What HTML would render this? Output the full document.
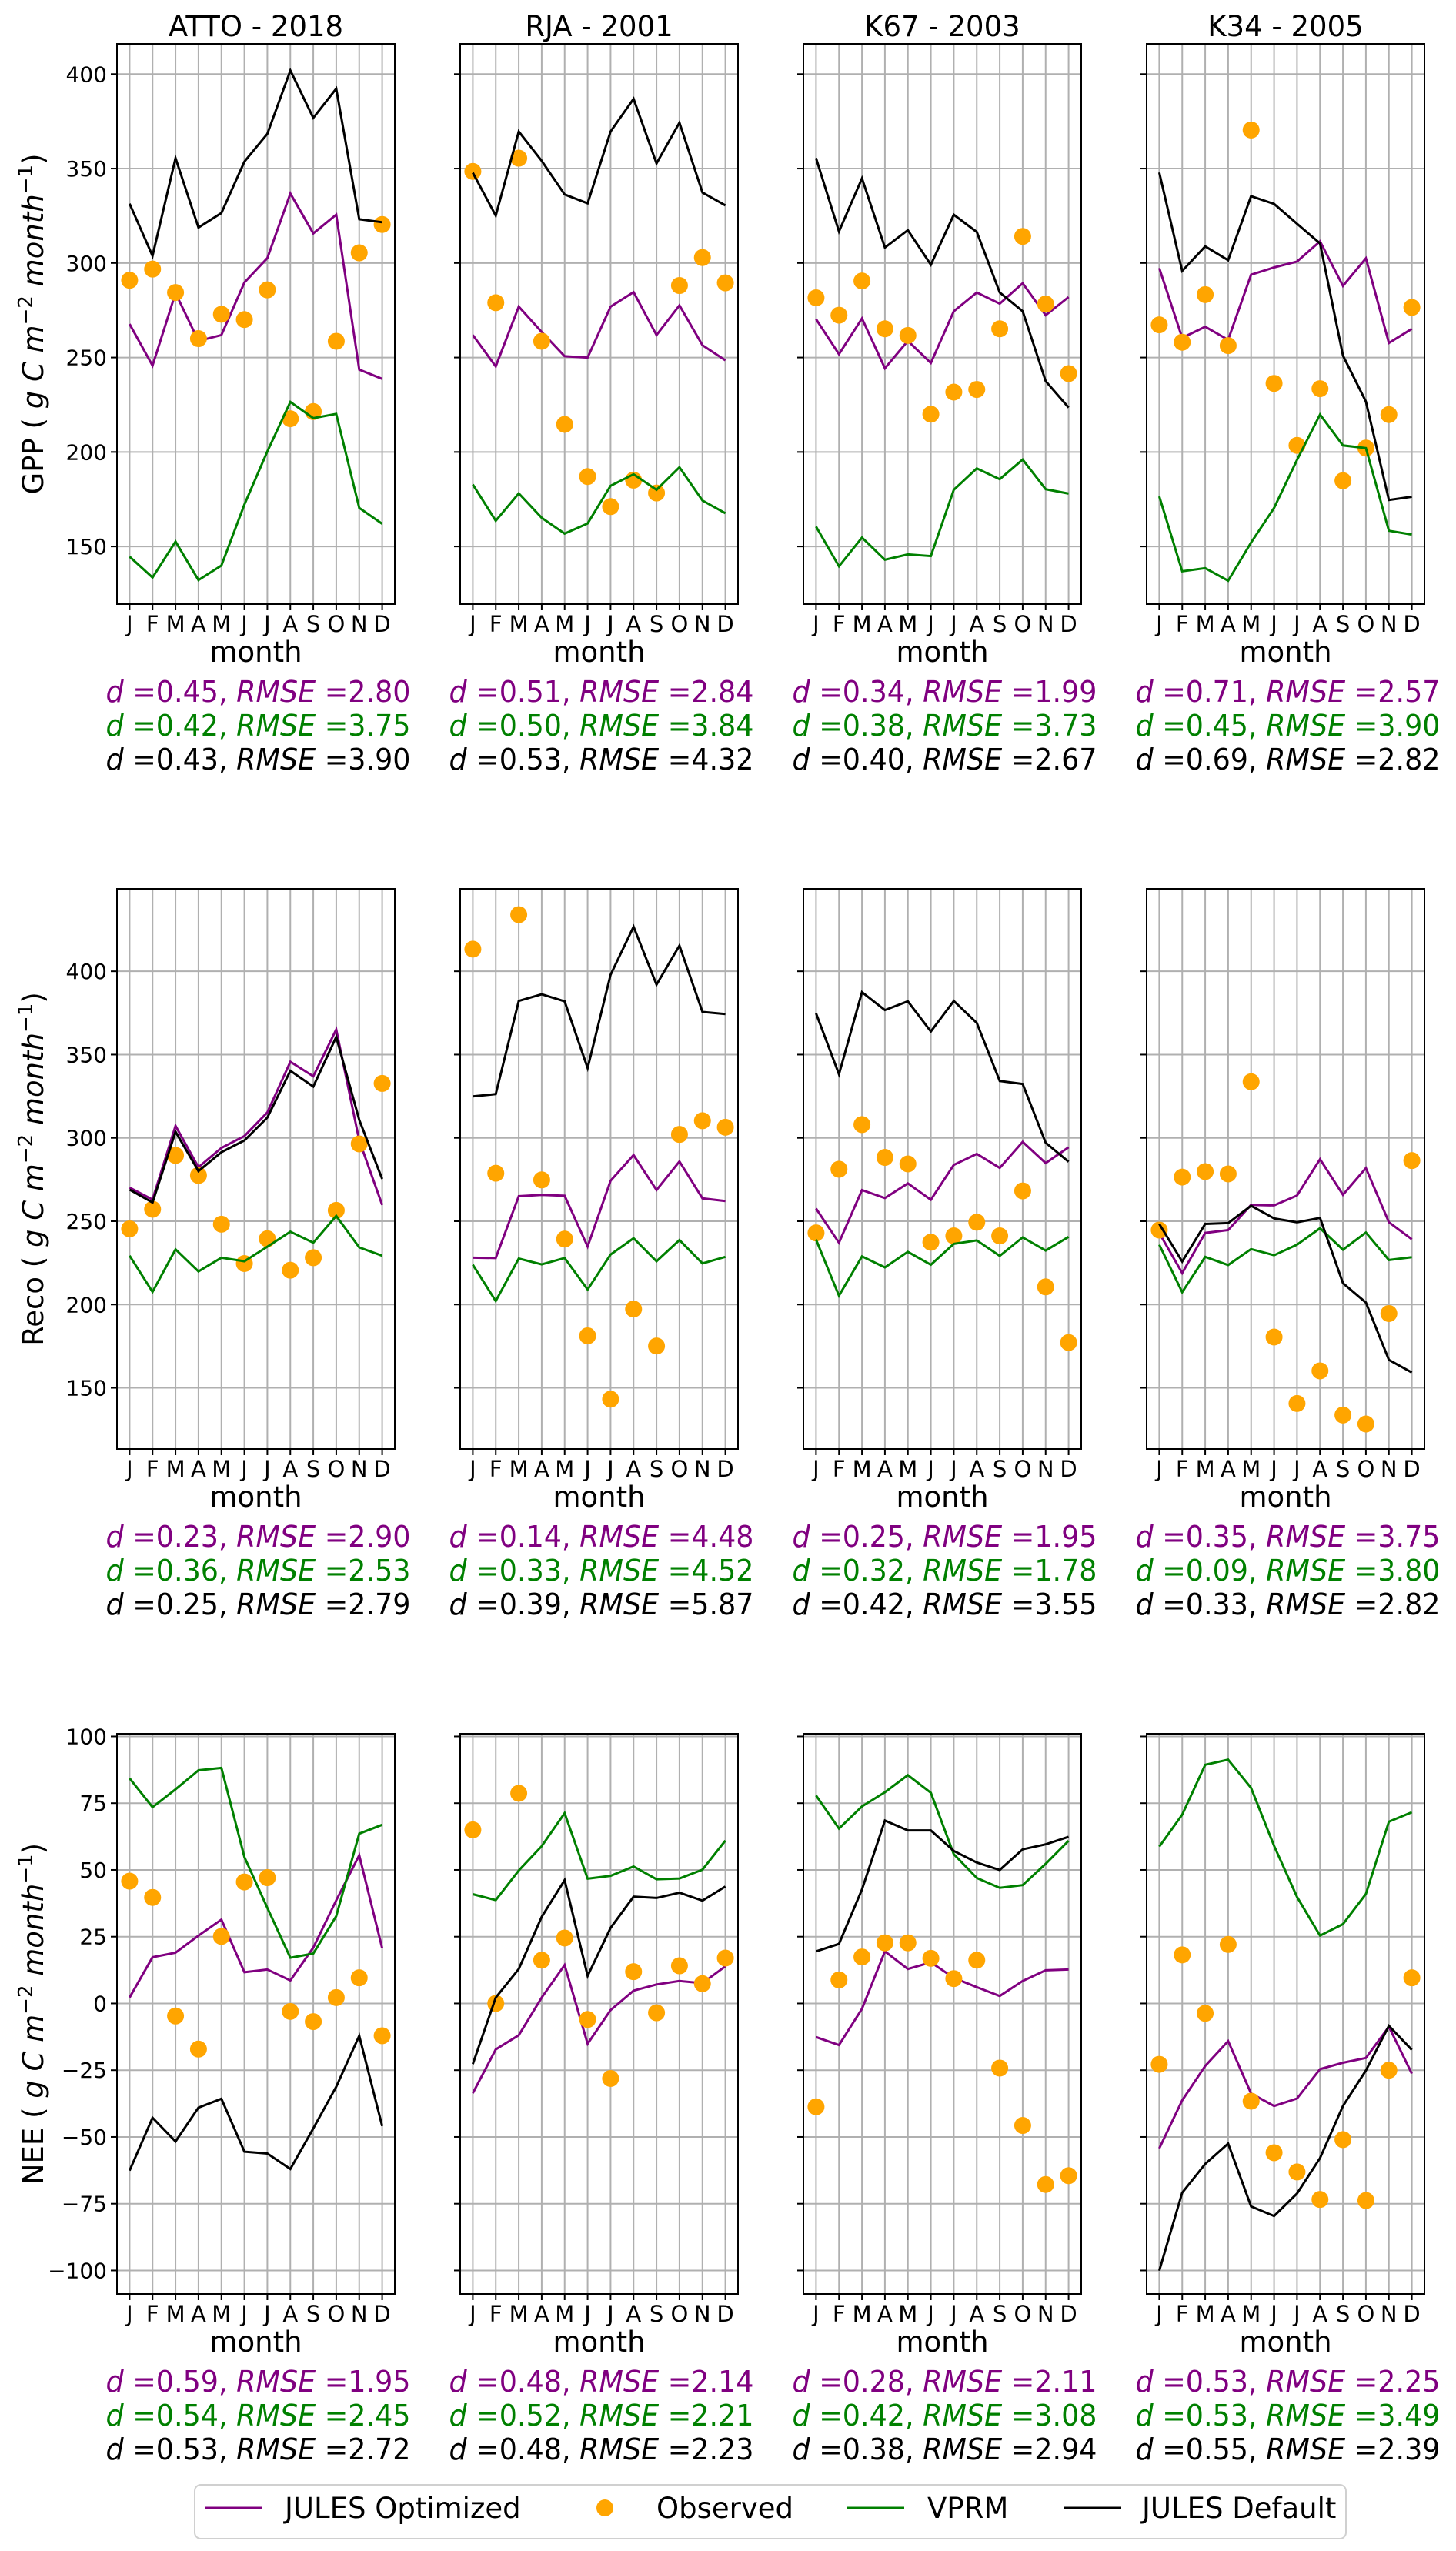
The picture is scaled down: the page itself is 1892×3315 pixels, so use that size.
<!DOCTYPE html>
<html>
<head>
<meta charset="utf-8">
<style>
html,body{margin:0;padding:0;background:#fff;}
svg{display:block;font-family:"DejaVu Sans","Liberation Sans",sans-serif;}
</style>
</head>
<body>
<svg id="fig" xmlns="http://www.w3.org/2000/svg" width="1892" height="3315" viewBox="0 0 1892 3315">
<rect x="0" y="0" width="1892" height="3315" fill="#fff"/>
</svg>
<script>
// ---------- data ----------
const months = ['J','F','M','A','M','J','J','A','S','O','N','D'];
const sites = ['ATTO - 2018','RJA - 2001','K67 - 2003','K34 - 2005'];
const rowVars = ['GPP','Reco','NEE'];
const gppTicks = [150,200,250,300,350,400];
const recoTicks = [150,200,250,300,350,400];
const neeTicks = [-100,-75,-50,-25,0,25,50,75,100];

const gppOpt = [
 [267.7,245.7,284.1,258.8,261.9,289.7,302.6,336.8,315.7,325.6,243.6,238.7],
 [261.9,245.3,276.9,263.5,250.7,250.0,276.9,284.6,261.9,277.6,256.5,248.5],
 [270.3,251.8,270.7,244.3,258.8,247.1,274.5,284.4,278.5,289.3,272.4,282.0],
 [297.3,260.4,266.3,259.4,293.8,297.7,300.8,311.5,287.9,302.5,257.7,265.2]];
const gppObs = [
 [290.9,296.8,284.4,260.0,272.9,270.1,285.8,217.6,221.4,258.6,305.4,320.4],
 [348.5,279.0,355.5,258.6,214.6,187.0,171.1,185.1,178.3,288.1,302.9,289.5],
 [281.6,272.4,290.5,265.2,261.7,220.0,231.7,233.1,265.2,314.1,278.3,241.5],
 [267.3,258.1,283.3,256.3,370.4,236.3,203.5,233.5,184.8,202.1,219.8,276.5]];
const gppVprm = [
 [144.6,133.6,152.6,132.2,139.9,172.2,200.3,226.5,217.9,220.2,170.4,162.0],
 [182.8,163.6,178.1,165.2,156.8,162.2,182.1,188.2,180.0,191.9,174.3,167.6],
 [160.5,139.5,154.7,143.0,145.8,144.9,180.0,191.3,185.6,196.0,180.3,178.0],
 [176.5,136.9,138.5,131.9,152.1,170.4,195.8,219.8,203.5,202.1,158.3,156.3]];
const gppDef = [
 [331.4,303.8,355.5,318.8,326.5,353.7,368.4,401.9,376.8,392.3,323.2,321.6],
 [347.8,325.1,369.6,354.1,336.3,331.6,369.6,386.9,352.7,374.3,337.3,330.5],
 [355.5,316.7,344.8,308.2,317.4,299.1,325.6,316.4,284.4,274.5,237.5,223.5],
 [347.9,295.8,308.8,301.5,335.4,331.3,320.8,310.4,251.0,226.7,174.6,176.3]];

const recoOpt = [
 [270.2,263.0,307.2,282.4,294.0,301.1,315.3,345.7,337.0,365.1,298.5,259.8],
 [228.1,227.9,265.0,265.8,265.3,234.8,274.3,289.7,268.7,285.9,263.7,262.1],
 [257.6,237.1,268.7,263.9,272.7,262.9,283.8,290.4,282.0,297.6,284.9,294.4],
 [243.0,218.9,243.0,244.7,259.8,259.5,265.4,287.2,265.9,281.9,249.4,239.2]];
const recoObs = [
 [245.4,257.2,289.5,277.5,248.2,224.6,239.5,220.6,228.1,256.5,296.4,332.7],
 [413.3,278.8,434.0,274.8,239.3,181.2,143.2,197.3,175.1,302.1,310.3,306.4],
 [243.0,281.2,308.0,288.3,284.4,237.4,241.2,249.4,241.2,268.2,210.6,177.2],
 [244.7,276.5,279.8,278.4,333.7,180.5,140.6,160.2,133.7,128.3,194.6,286.4]];
const recoVprm = [
 [229.3,207.6,233.1,219.9,228.1,226.0,234.7,243.7,237.1,253.2,234.3,229.3],
 [223.9,202.1,227.6,224.1,227.9,209.0,230.0,239.8,226.0,238.7,224.7,228.6],
 [239.0,205.3,228.9,222.3,231.6,223.9,236.4,238.5,229.2,240.3,232.4,240.6],
 [235.9,207.4,228.6,223.7,233.3,229.6,235.9,245.8,232.9,243.2,226.7,228.4]];
const recoDef = [
 [269.0,261.2,303.7,280.1,291.4,298.5,312.2,340.3,330.8,360.6,310.8,275.4],
 [324.9,326.3,382.2,386.2,382.0,341.9,397.9,426.8,392.0,415.4,375.6,374.3],
 [374.8,338.2,387.5,376.7,382.0,363.9,382.2,369.0,334.2,332.4,297.1,285.7],
 [248.4,225.8,248.4,248.9,259.3,251.7,249.4,252.0,212.8,201.2,166.8,159.2]];

const neeOpt = [
 [2.2,17.3,19.0,25.4,31.4,11.7,12.7,8.6,20.9,38.6,55.5,20.7],
 [-33.6,-17.2,-11.9,2.2,14.4,-15.1,-2.5,4.8,7.1,8.4,7.6,13.9],
 [-12.6,-15.6,-2.0,19.5,12.9,15.4,9.6,6.1,2.8,8.4,12.4,12.7],
 [-54.3,-36.3,-23.4,-14.1,-33.7,-38.4,-35.6,-24.6,-22.2,-20.4,-8.7,-26.3]];
const neeObs = [
 [45.8,39.7,-4.7,-17.1,25.1,45.5,47.1,-3.0,-6.8,2.2,9.6,-12.1],
 [65.0,0.0,78.7,16.2,24.5,-6.0,-28.1,11.9,-3.5,14.1,7.4,17.0],
 [-38.7,8.8,17.4,22.7,22.7,16.9,9.3,16.2,-24.2,-45.7,-67.8,-64.5],
 [-22.8,18.2,-3.7,22.1,-36.6,-55.9,-63.1,-73.4,-51.0,-73.8,-25.0,9.6]];
const neeVprm = [
 [84.3,73.5,80.2,87.3,88.2,54.8,35.8,17.1,18.7,32.7,63.6,66.9],
 [40.9,38.7,49.8,58.9,71.3,46.7,47.8,51.3,46.5,46.8,50.1,61.0],
 [77.9,65.5,73.8,79.1,85.5,78.9,55.9,47.0,43.3,44.3,52.3,60.9],
 [58.7,70.7,89.4,91.3,80.7,59.0,39.9,25.4,29.7,41.0,68.1,71.6]];
const neeDef = [
 [-62.6,-42.8,-51.7,-39.0,-35.7,-55.5,-56.2,-62.0,-46.8,-31.2,-12.1,-45.9],
 [-22.7,2.2,12.9,32.4,46.2,10.3,28.3,40.0,39.5,41.5,38.5,43.8],
 [19.5,22.3,42.7,68.5,64.8,64.8,57.1,52.8,50.0,57.7,59.6,62.4],
 [-100.1,-70.9,-60.1,-52.5,-76.0,-79.6,-71.2,-57.9,-38.4,-25.1,-8.4,-17.4]];

// stats [d, RMSE] per row, per site
const statsOpt = [
 [['0.45','2.80'],['0.51','2.84'],['0.34','1.99'],['0.71','2.57']],
 [['0.23','2.90'],['0.14','4.48'],['0.25','1.95'],['0.35','3.75']],
 [['0.59','1.95'],['0.48','2.14'],['0.28','2.11'],['0.53','2.25']]];
const statsVprm = [
 [['0.42','3.75'],['0.50','3.84'],['0.38','3.73'],['0.45','3.90']],
 [['0.36','2.53'],['0.33','4.52'],['0.32','1.78'],['0.09','3.80']],
 [['0.54','2.45'],['0.52','2.21'],['0.42','3.08'],['0.53','3.49']]];
const statsDef = [
 [['0.43','3.90'],['0.53','4.32'],['0.40','2.67'],['0.69','2.82']],
 [['0.25','2.79'],['0.39','5.87'],['0.42','3.55'],['0.33','2.82']],
 [['0.53','2.72'],['0.48','2.23'],['0.38','2.94'],['0.55','2.39']]];

// ---------- layout ----------
const NS = 'http://www.w3.org/2000/svg';
const svg = document.getElementById('fig');
const colLeft = [152, 598, 1044, 1490];
const panelW = 361;
const rowTop = [57, 1155, 2253];
const panelH = 728;
const yLims = [[119.5, 416], [113.3, 449.5], [-108.8, 101]];
const rowTicks = [gppTicks, recoTicks, neeTicks];
const rowOpt = [gppOpt, recoOpt, neeOpt];
const rowObs = [gppObs, recoObs, neeObs];
const rowVprm = [gppVprm, recoVprm, neeVprm];
const rowDef = [gppDef, recoDef, neeDef];
const C_OPT = '#800080', C_OBS = '#ffa500', C_VPRM = '#008000', C_DEF = '#000000';

function el(tag, attrs, parent) {
  const e = document.createElementNS(NS, tag);
  for (const k in attrs) e.setAttribute(k, attrs[k]);
  (parent || svg).appendChild(e);
  return e;
}
function xScale(c, i) { const u = panelW / 12.1; return colLeft[c] + (i + 0.55) * u; }
function yScale(r, v) { const [lo, hi] = yLims[r]; return rowTop[r] + panelH - (v - lo) / (hi - lo) * panelH; }
function fmtTick(v) { return v < 0 ? '\u2212' + Math.abs(v) : String(v); }

for (let r = 0; r < 3; r++) {
  for (let c = 0; c < 4; c++) {
    const L = colLeft[c], T = rowTop[r], R = L + panelW, B = T + panelH;
    const g = el('g', {});
    
    

    months.forEach((m, i) => {
      const x = xScale(c, i);
      const gl = el('line', {x1: x, x2: x, y1: T, y2: B, stroke: '#b0b0b0', 'stroke-width': 2}, g);
      
      
      const tk = el('line', {x1: x, x2: x, y1: B, y2: B + 8, stroke: '#000', 'stroke-width': 2}, g);
      
      
      const tl = el('text', {x: x, y: B + 36, 'font-size': 29, 'text-anchor': 'middle', fill: '#000'}, g);
      tl.textContent = m;
      
      
    });
    rowTicks[r].forEach(v => {
      const y = yScale(r, v);
      const gl = el('line', {x1: L, x2: R, y1: y, y2: y, stroke: '#b0b0b0', 'stroke-width': 2}, g);
      
      
      const tk = el('line', {x1: L - 8, x2: L, y1: y, y2: y, stroke: '#000', 'stroke-width': 2}, g);
      
      
      if (c === 0) {
        const tl = el('text', {x: 139, y: y + 10, 'font-size': 28, 'text-anchor': 'end', fill: '#000'}, g);
        tl.textContent = fmtTick(v);
        
        
      }
    });

    const drawLine = (arr, color, name) => {
      const pts = arr.map((v, i) => xScale(c, i).toFixed(1) + ',' + yScale(r, v).toFixed(1)).join(' ');
      const pl = el('polyline', {points: pts, fill: 'none', stroke: color, 'stroke-width': 3, 'stroke-linejoin': 'miter'}, g);
      
      
    };
    drawLine(rowOpt[r][c], C_OPT, 'jules-optimized-line');
    rowObs[r][c].forEach((v, i) => {
      const d = el('circle', {cx: xScale(c, i), cy: yScale(r, v), r: 11, fill: C_OBS}, g);
      
      
    });
    drawLine(rowVprm[r][c], C_VPRM, 'vprm-line');
    drawLine(rowDef[r][c], C_DEF, 'jules-default-line');

    const fr = el('rect', {x: L, y: T, width: panelW, height: panelH, fill: 'none', stroke: '#000', 'stroke-width': 2}, g);
    
    

    const xl = el('text', {x: L + panelW / 2, y: B + 75, 'font-size': 37, 'text-anchor': 'middle', fill: '#000'}, g);
    xl.textContent = 'month';
    
    

    if (r === 0) {
      const tt = el('text', {x: L + panelW / 2, y: 47, 'font-size': 37, 'text-anchor': 'middle', fill: '#000'}, g);
      tt.textContent = sites[c];
      
      
    }

    const statSets = [[statsOpt, C_OPT, 'stats-jules-optimized'], [statsVprm, C_VPRM, 'stats-vprm'], [statsDef, C_DEF, 'stats-jules-default']];
    statSets.forEach((s, k) => {
      const pair = s[0][r][c];
      const st = el('text', {x: L + panelW / 2 + 3, y: B + 127 + 44 * k, 'font-size': 38, 'text-anchor': 'middle', fill: s[1], textLength: 396, lengthAdjust: 'spacingAndGlyphs'}, g);
      
      
      const a = el('tspan', {'font-style': 'italic'}, st); a.textContent = 'd';
      const b = el('tspan', {}, st); b.textContent = ' =' + pair[0] + ', ';
      const cc = el('tspan', {'font-style': 'italic'}, st); cc.textContent = 'RMSE';
      const dd = el('tspan', {}, st); dd.textContent = ' =' + pair[1];
    });
  }
  const cy = rowTop[r] + panelH / 2;
  const yl = el('text', {x: 0, y: 0, 'font-size': 37, 'text-anchor': 'middle', fill: '#000', transform: 'translate(56,' + cy + ') rotate(-90)'});
  
  
  const p1 = el('tspan', {}, yl); p1.textContent = rowVars[r] + ' ( ';
  const p2 = el('tspan', {'font-style': 'italic'}, yl); p2.textContent = 'g C m';
  const p3 = el('tspan', {'font-size': 26, dy: -14}, yl); p3.textContent = '\u22122';
  const p4 = el('tspan', {'font-style': 'italic', dy: 14}, yl); p4.textContent = ' month';
  const p5 = el('tspan', {'font-size': 26, dy: -14}, yl); p5.textContent = '\u22121';
  const p6 = el('tspan', {dy: 14}, yl); p6.textContent = ')';
}

// ---------- legend ----------
const lg = el('g', {});


const lbox = el('rect', {x: 253, y: 3229, width: 1496, height: 70, rx: 8, fill: '#fff', stroke: '#d0d0d0', 'stroke-width': 2}, lg);


const legendItems = [
  ['line', C_OPT, 266, 370, 'JULES Optimized', 'legend-entry-jules-optimized'],
  ['dot', C_OBS, 749, 853, 'Observed', 'legend-entry-observed'],
  ['line', C_VPRM, 1100, 1205, 'VPRM', 'legend-entry-vprm'],
  ['line', C_DEF, 1382, 1484, 'JULES Default', 'legend-entry-jules-default']];
legendItems.forEach(it => {
  const gi = el('g', {}, lg);
  
  
  if (it[0] === 'line') {
    const h = el('line', {x1: it[2], x2: it[2] + 75, y1: 3259, y2: 3259, stroke: it[1], 'stroke-width': 3}, gi);
    
    
  } else {
    const h = el('circle', {cx: it[2] + 37, cy: 3259, r: 11, fill: it[1]}, gi);
    
    
  }
  const t = el('text', {x: it[3], y: 3272, 'font-size': 37, fill: '#000'}, gi);
  t.textContent = it[4];
  
  
});
</script>
</body>
</html>
